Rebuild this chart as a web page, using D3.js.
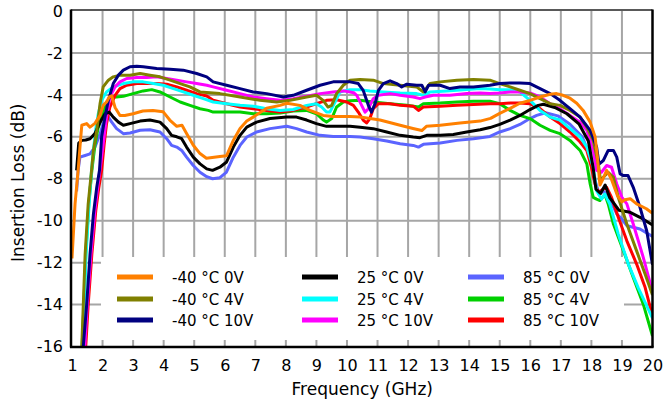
<!DOCTYPE html>
<html>
<head>
<meta charset="utf-8">
<script src="https://cdn.jsdelivr.net/npm/d3@7"></script>
<style>
  html, body { margin: 0; padding: 0; background: #fff; }
  svg { display: block; font-family: "DejaVu Sans", Verdana, sans-serif; }
</style>
</head>
<body>
<svg id="chart" width="666" height="407"></svg>
<script>
// tick values
const xTicks = d3.range(1, 21);
const yTicks = [0, -2, -4, -6, -8, -10, -12, -14, -16];

// series: [frequency GHz, insertion loss dB]
const orange40_0 = [[1.0,-11.8],[1.05,-10.5],[1.1,-9.2],[1.2,-7.6],[1.26,-6.5],[1.32,-5.45],[1.48,-5.37],[1.59,-5.54],[1.75,-5.36],[1.92,-4.98],[2.02,-4.5],[2.13,-4.34],[2.22,-4.1],[2.3,-4.05],[2.41,-4.6],[2.57,-4.98],[2.73,-4.98],[3.0,-4.9],[3.32,-4.77],[3.65,-4.74],[3.98,-4.8],[4.2,-5.2],[4.43,-5.5],[4.6,-5.45],[4.75,-5.84],[4.97,-6.4],[5.19,-6.8],[5.4,-7.02],[5.84,-6.94],[6.06,-6.9],[6.28,-6.17],[6.5,-5.6],[6.72,-5.25],[6.93,-5.06],[7.37,-4.64],[7.81,-4.5],[8.03,-4.4],[8.46,-4.5],[8.79,-4.74],[9.22,-4.98],[9.55,-5.03],[10.1,-5.03],[10.43,-5.06],[11.08,-5.2],[11.74,-5.45],[12.16,-5.6],[12.45,-5.7],[12.6,-5.5],[13.05,-5.45],[13.7,-5.34],[14.36,-5.25],[14.7,-5.12],[15.0,-4.88],[15.34,-4.64],[15.66,-4.4],[15.99,-4.26],[16.32,-4.1],[16.65,-3.97],[16.86,-3.94],[17.07,-4.02],[17.3,-4.16],[17.52,-4.4],[17.73,-4.74],[17.96,-5.3],[18.12,-6.0],[18.2,-7.0],[18.28,-8.3],[18.38,-8.0],[18.5,-7.6],[18.65,-8.0],[18.85,-8.8],[19.0,-9.1],[19.1,-9.0],[19.27,-8.95],[19.48,-9.2],[19.8,-9.43],[20,-9.65]];
const olive40_4 = [[1.32,-16],[1.37,-14],[1.43,-11.6],[1.53,-9.2],[1.64,-7.6],[1.7,-6.65],[1.81,-5.7],[1.92,-4.4],[2.02,-3.62],[2.19,-3.3],[2.35,-3.14],[2.57,-3.06],[2.9,-3.06],[3.23,-2.98],[3.55,-3.06],[3.88,-3.14],[4.21,-3.3],[4.54,-3.46],[4.86,-3.62],[5.19,-3.86],[5.84,-3.94],[6.5,-4.1],[7.15,-4.26],[7.7,-4.34],[8.14,-4.26],[8.68,-4.1],[9.0,-4.02],[9.22,-4.26],[9.38,-4.58],[9.5,-4.5],[9.66,-3.94],[9.88,-3.54],[10.1,-3.3],[10.43,-3.27],[10.86,-3.3],[11.19,-3.46],[11.74,-3.54],[12.28,-3.62],[12.5,-3.86],[12.72,-3.46],[13.05,-3.38],[13.6,-3.3],[14.14,-3.27],[14.68,-3.3],[15.0,-3.46],[15.34,-3.62],[15.66,-3.78],[15.99,-3.94],[16.32,-4.18],[16.65,-4.42],[16.97,-4.5],[17.3,-4.74],[17.63,-5.06],[17.85,-5.54],[18.06,-6.17],[18.23,-7.3],[18.3,-8.1],[18.39,-7.93],[18.55,-7.69],[18.72,-7.93],[18.88,-8.89],[19.16,-10.16],[19.48,-11.44],[19.76,-12.55],[20,-13.55]];
const navy40_10 = [[1.37,-16],[1.48,-14],[1.59,-11.6],[1.7,-9.7],[1.81,-8.4],[1.9,-7.6],[1.97,-6.0],[2.08,-5.06],[2.19,-4.26],[2.35,-3.46],[2.52,-3.06],[2.68,-2.82],[2.9,-2.66],[3.12,-2.63],[3.33,-2.66],[3.77,-2.74],[4.21,-2.78],[4.64,-2.82],[5.08,-2.98],[5.41,-3.14],[5.62,-3.38],[6.06,-3.54],[6.5,-3.7],[6.93,-3.86],[7.37,-3.94],[7.92,-4.1],[8.24,-4.02],[8.68,-3.78],[9.12,-3.54],[9.55,-3.38],[10.1,-3.38],[10.37,-3.46],[10.53,-3.78],[10.7,-4.5],[10.8,-4.82],[10.92,-4.42],[11.03,-3.78],[11.19,-3.46],[11.41,-3.33],[11.63,-3.46],[11.79,-3.62],[11.96,-3.49],[12.28,-3.54],[12.45,-3.54],[12.56,-3.86],[12.67,-3.54],[13.05,-3.54],[13.37,-3.7],[13.7,-3.62],[14.14,-3.62],[14.68,-3.54],[15.0,-3.46],[15.34,-3.43],[15.66,-3.43],[15.99,-3.46],[16.32,-3.7],[16.65,-3.94],[16.97,-4.26],[17.3,-4.66],[17.63,-5.06],[17.96,-5.69],[18.17,-6.49],[18.25,-7.3],[18.39,-7.13],[18.55,-6.65],[18.72,-6.65],[18.83,-6.97],[18.94,-7.77],[19.05,-7.85],[19.2,-7.85],[19.37,-8.41],[19.59,-9.36],[19.81,-10.48],[20,-12.1]];
const black25_0 = [[1.15,-7.6],[1.22,-6.3],[1.32,-6.17],[1.45,-6.15],[1.59,-6.09],[1.75,-5.85],[1.92,-5.3],[2.08,-4.9],[2.22,-4.82],[2.35,-5.06],[2.52,-5.3],[2.68,-5.45],[2.9,-5.37],[3.23,-5.25],[3.55,-5.2],[3.88,-5.3],[4.1,-5.61],[4.26,-5.93],[4.43,-6.0],[4.59,-6.09],[4.75,-6.49],[4.97,-6.97],[5.19,-7.29],[5.41,-7.53],[5.6,-7.6],[5.84,-7.45],[6.06,-7.2],[6.28,-6.49],[6.5,-5.93],[6.72,-5.54],[7.04,-5.3],[7.48,-5.13],[8.03,-5.06],[8.35,-5.06],[8.68,-5.2],[9.0,-5.37],[9.33,-5.5],[10.1,-5.5],[10.43,-5.54],[10.86,-5.61],[11.3,-5.77],[11.74,-5.93],[12.17,-6.01],[12.39,-6.04],[12.61,-5.93],[13.05,-5.93],[13.48,-5.89],[13.92,-5.77],[14.36,-5.66],[14.68,-5.56],[15.0,-5.41],[15.34,-5.2],[15.66,-4.98],[15.99,-4.7],[16.26,-4.5],[16.43,-4.45],[16.8,-4.6],[17.2,-4.9],[17.6,-5.4],[17.9,-6.2],[18.05,-7.4],[18.15,-8.5],[18.3,-8.7],[18.45,-8.3],[18.6,-8.9],[18.9,-9.5],[19.27,-9.6],[19.59,-9.84],[20,-10.2]];
const cyan25_4 = [[1.34,-16],[1.4,-14],[1.46,-11.6],[1.56,-9.2],[1.64,-7.6],[1.7,-6.65],[1.78,-5.6],[1.86,-4.9],[1.97,-4.26],[2.13,-3.86],[2.35,-3.62],[2.68,-3.46],[3.0,-3.38],[3.33,-3.38],[3.66,-3.46],[3.99,-3.54],[4.32,-3.7],[4.64,-3.86],[4.97,-4.02],[5.3,-4.18],[5.62,-4.34],[6.06,-4.42],[6.5,-4.5],[6.93,-4.54],[7.37,-4.66],[7.81,-4.74],[8.24,-4.7],[8.68,-4.5],[9.0,-4.42],[9.17,-4.58],[9.33,-4.82],[9.44,-4.82],[9.61,-4.34],[9.77,-3.86],[10.1,-3.75],[10.43,-3.75],[10.75,-3.81],[11.19,-3.86],[11.74,-3.91],[12.28,-3.94],[12.5,-4.02],[12.72,-3.86],[13.27,-3.81],[13.81,-3.75],[14.36,-3.7],[14.68,-3.72],[15.0,-3.75],[15.34,-3.75],[15.66,-3.86],[15.99,-4.26],[16.32,-4.74],[16.65,-5.06],[16.97,-5.2],[17.3,-5.61],[17.63,-6.01],[17.85,-6.49],[18.06,-7.45],[18.17,-8.57],[18.33,-8.97],[18.44,-8.73],[18.6,-9.2],[18.88,-10.64],[19.21,-12.07],[19.53,-13.19],[20,-14.65]];
const magenta25_10 = [[1.42,-16],[1.5,-14],[1.62,-11.6],[1.75,-9.5],[1.85,-8.3],[1.95,-7.2],[2.05,-6.0],[2.13,-5.06],[2.24,-4.1],[2.41,-3.62],[2.57,-3.38],[2.79,-3.22],[3.12,-3.17],[3.45,-3.17],[3.77,-3.14],[4.1,-3.22],[4.43,-3.3],[4.75,-3.38],[5.08,-3.46],[5.41,-3.54],[5.62,-3.62],[6.06,-3.78],[6.5,-3.94],[6.93,-4.1],[7.37,-4.18],[7.81,-4.26],[8.24,-4.18],[8.68,-4.07],[9.12,-3.94],[9.55,-3.86],[9.88,-3.81],[10.1,-3.86],[10.22,-3.9],[10.32,-4.02],[10.48,-4.5],[10.59,-4.82],[10.7,-4.66],[10.86,-4.18],[11.03,-4.02],[11.41,-3.94],[11.74,-4.02],[12.17,-4.1],[12.39,-4.18],[12.56,-4.1],[12.83,-4.02],[13.37,-4.02],[13.92,-3.94],[14.36,-3.91],[14.68,-3.94],[15.0,-3.91],[15.34,-3.86],[15.66,-3.86],[15.99,-3.91],[16.32,-4.1],[16.65,-4.42],[16.97,-4.66],[17.3,-4.98],[17.63,-5.3],[17.85,-5.69],[18.06,-6.65],[18.17,-7.6],[18.33,-7.69],[18.5,-7.37],[18.66,-7.45],[18.83,-8.25],[19.0,-8.89],[19.16,-9.2],[19.37,-10.16],[19.7,-11.76],[20,-13.4]];
const blue85_0 = [[1.15,-8.6],[1.2,-7.6],[1.26,-6.97],[1.43,-6.89],[1.59,-6.81],[1.75,-6.49],[1.92,-5.85],[2.02,-5.37],[2.19,-5.06],[2.3,-5.3],[2.46,-5.61],[2.68,-5.85],[2.9,-5.82],[3.23,-5.69],[3.55,-5.66],[3.88,-5.77],[4.1,-6.09],[4.26,-6.41],[4.43,-6.49],[4.59,-6.65],[4.75,-6.97],[4.97,-7.37],[5.19,-7.69],[5.41,-7.9],[5.6,-8.0],[5.84,-7.95],[6.05,-7.7],[6.28,-6.97],[6.5,-6.41],[6.72,-6.01],[7.04,-5.77],[7.48,-5.61],[8.03,-5.5],[8.35,-5.61],[8.68,-5.77],[9.12,-5.93],[9.55,-5.98],[10.1,-5.98],[10.43,-6.01],[10.86,-6.09],[11.3,-6.2],[11.74,-6.33],[12.17,-6.41],[12.34,-6.49],[12.5,-6.36],[13.05,-6.3],[13.6,-6.17],[14.14,-6.09],[14.68,-5.98],[15.0,-5.77],[15.34,-5.61],[15.66,-5.41],[15.99,-5.13],[16.21,-4.98],[16.5,-4.85],[16.9,-5.0],[17.3,-5.4],[17.7,-6.0],[17.95,-6.9],[18.1,-8.0],[18.25,-8.7],[18.4,-8.6],[18.55,-8.8],[18.83,-9.68],[19.0,-9.92],[19.16,-10.24],[19.59,-10.4],[20,-10.75]];
const green85_4 = [[1.33,-16],[1.39,-14],[1.45,-11.6],[1.55,-9.2],[1.65,-7.6],[1.75,-6.4],[1.85,-5.6],[1.97,-5.06],[2.13,-4.34],[2.3,-4.1],[2.46,-4.1],[2.68,-4.07],[3.0,-3.94],[3.33,-3.81],[3.61,-3.75],[3.88,-3.86],[4.21,-4.1],[4.54,-4.34],[4.86,-4.5],[5.19,-4.66],[5.46,-4.74],[5.62,-4.82],[6.06,-4.82],[6.5,-4.82],[6.93,-4.9],[7.37,-4.9],[7.81,-4.87],[8.24,-4.77],[8.68,-4.74],[9.0,-4.9],[9.23,-5.2],[9.33,-5.3],[9.5,-5.13],[9.66,-4.58],[9.88,-4.34],[10.1,-4.28],[10.43,-4.26],[10.86,-4.34],[11.41,-4.42],[11.96,-4.5],[12.34,-4.58],[12.5,-4.42],[13.05,-4.39],[13.6,-4.34],[14.14,-4.3],[14.68,-4.3],[15.0,-4.42],[15.34,-4.74],[15.66,-4.98],[15.99,-5.13],[16.32,-5.45],[16.65,-5.69],[16.97,-5.85],[17.3,-6.17],[17.63,-6.65],[17.85,-7.29],[17.96,-8.25],[18.06,-8.89],[18.17,-8.97],[18.28,-9.04],[18.44,-8.75],[18.55,-9.2],[18.72,-10.16],[19.05,-11.44],[19.37,-12.71],[19.7,-13.99],[20,-15.5]];
const red85_10 = [[1.45,-16],[1.53,-14],[1.65,-11.6],[1.78,-9.5],[1.88,-8.4],[1.97,-7.6],[2.05,-6.4],[2.13,-5.37],[2.24,-4.58],[2.41,-4.02],[2.57,-3.7],[2.79,-3.54],[3.12,-3.46],[3.45,-3.46],[3.77,-3.46],[4.1,-3.49],[4.43,-3.62],[4.75,-3.78],[5.08,-3.94],[5.41,-4.05],[5.62,-4.26],[6.06,-4.42],[6.5,-4.58],[6.93,-4.66],[7.37,-4.74],[7.81,-4.82],[8.24,-4.74],[8.68,-4.58],[9.0,-4.42],[9.33,-4.26],[9.66,-4.23],[9.88,-4.3],[9.99,-4.34],[10.21,-4.5],[10.37,-4.82],[10.53,-5.2],[10.64,-5.34],[10.75,-5.13],[10.86,-4.66],[11.03,-4.42],[11.41,-4.42],[11.74,-4.5],[12.17,-4.54],[12.34,-4.74],[12.5,-4.58],[13.05,-4.54],[13.6,-4.5],[14.14,-4.46],[14.68,-4.42],[15.0,-4.42],[15.34,-4.39],[15.66,-4.39],[15.99,-4.42],[16.32,-4.66],[16.65,-5.06],[16.97,-5.37],[17.3,-5.77],[17.63,-6.25],[17.85,-6.65],[18.0,-7.45],[18.12,-8.25],[18.23,-8.65],[18.39,-8.49],[18.5,-8.41],[18.66,-8.89],[18.88,-9.84],[19.16,-10.96],[19.48,-12.07],[19.76,-13.19],[20,-14.55]];

const seriesNames = ['-40 °C 0V', '-40 °C 4V', '-40 °C 10V', '25 °C 0V', '25 °C 4V', '25 °C 10V', '85 °C 0V', '85 °C 4V', '85 °C 10V'];
const seriesColors = ['#ff8000', '#808000', '#000080', '#000000', '#00ffff', '#ff00ff', '#5b64ff', '#00d000', '#ff0000'];
const seriesValues = [orange40_0, olive40_4, navy40_10, black25_0, cyan25_4, magenta25_10, blue85_0, green85_4, red85_10];
// drawn bottom to top
const drawOrder = [6, 7, 8, 4, 5, 3, 1, 2, 0];

const svg = d3.select('#chart');
const plotL = 72, plotR = 652.5, plotT = 11, plotB = 346.5;

const x = d3.scaleLinear().domain([1, 20]).range([plotL, plotR]);
const y = d3.scaleLinear().domain([-16, 0]).range([plotB, plotT]);

// grid
svg.append('g')
  .selectAll('line')
  .data(xTicks.slice(1, -1))
  .join('line')
  .attr('x1', d => x(d)).attr('x2', d => x(d))
  .attr('y1', plotT).attr('y2', plotB)
  .attr('stroke', '#a6a6a6').attr('stroke-width', 2);
svg.append('g')
  .selectAll('line')
  .data(yTicks.slice(1, -1))
  .join('line')
  .attr('x1', plotL).attr('x2', plotR)
  .attr('y1', d => y(d)).attr('y2', d => y(d))
  .attr('stroke', '#a6a6a6').attr('stroke-width', 2);

// white legend box sits on the grid
svg.append('rect')
  .attr('x', 101).attr('y', 257)
  .attr('width', 523).attr('height', 83)
  .attr('fill', '#fff');

// series
svg.append('clipPath').attr('id', 'plot-clip')
  .append('rect')
  .attr('x', plotL).attr('y', plotT - 2)
  .attr('width', plotR - plotL).attr('height', plotB - plotT + 2);

const line = d3.line().x(d => x(d[0])).y(d => y(d[1]));

const lines = svg.append('g').attr('clip-path', 'url(#plot-clip)');
drawOrder.forEach(i => {
  lines.append('path')
    .datum(seriesValues[i])
    .attr('fill', 'none')
    .attr('stroke', seriesColors[i])
    .attr('stroke-width', 3)
    .attr('stroke-linejoin', 'round')
    .attr('d', line);
});

// frame
svg.append('line').attr('x1', plotL - 1).attr('x2', plotR).attr('y1', plotT - 1).attr('y2', plotT - 1)
  .attr('stroke', '#222').attr('stroke-width', 1.5);
svg.append('line').attr('x1', plotR).attr('x2', plotR).attr('y1', plotT - 1.5).attr('y2', plotB + 1)
  .attr('stroke', '#000').attr('stroke-width', 2.5);
svg.append('line').attr('x1', plotL - 1).attr('x2', plotL - 1).attr('y1', plotT - 1.5).attr('y2', plotB + 1)
  .attr('stroke', '#000').attr('stroke-width', 2.5);
svg.append('line').attr('x1', plotL - 2).attr('x2', plotR + 1).attr('y1', plotB + 0.5).attr('y2', plotB + 0.5)
  .attr('stroke', '#000').attr('stroke-width', 2.5);

// axes (labels only)
const xAxis = svg.append('g')
  .attr('transform', `translate(0,${plotB})`)
  .call(d3.axisBottom(x).tickValues(xTicks).tickSize(0).tickPadding(13).tickFormat(d => String(d)));
const yAxis = svg.append('g')
  .attr('transform', `translate(${plotL - 1},0)`)
  .call(d3.axisLeft(y).tickValues(yTicks).tickSize(0).tickPadding(8).tickFormat(d => String(d)));
[xAxis, yAxis].forEach(g => {
  g.select('.domain').remove();
  g.selectAll('text')
    .attr('font-family', '"DejaVu Sans", Verdana, sans-serif')
    .attr('font-size', 16)
    .attr('fill', '#000');
});

// titles
svg.append('text')
  .attr('x', (plotL + plotR) / 2).attr('y', 395)
  .attr('text-anchor', 'middle')
  .attr('font-size', 17)
  .text('Frequency (GHz)');
svg.append('text')
  .attr('transform', `translate(24,${(plotT + plotB) / 2 + 4}) rotate(-90)`)
  .attr('text-anchor', 'middle')
  .attr('font-size', 17)
  .text('Insertion Loss (dB)');

// legend
const legendCols = [117, 302, 468];
const legendRows = [277, 299, 320];
const legend = svg.append('g');
seriesNames.forEach((name, i) => {
  const cx = legendCols[Math.floor(i / 3)];
  const cy = legendRows[i % 3];
  legend.append('line')
    .attr('x1', cx).attr('x2', cx + 36)
    .attr('y1', cy).attr('y2', cy)
    .attr('stroke', seriesColors[i]).attr('stroke-width', 5);
  legend.append('text')
    .attr('x', cx + 55).attr('y', cy + 5.5)
    .attr('font-size', 15)
    .text(name);
});
</script>
</body>
</html>
